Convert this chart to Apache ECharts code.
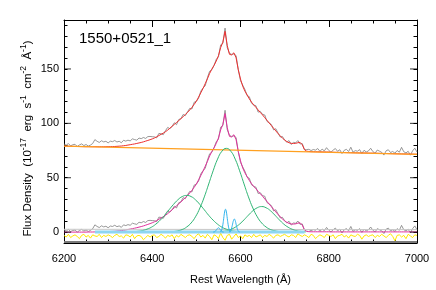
<!DOCTYPE html>
<html><head><meta charset="utf-8">
<script src="https://cdn.jsdelivr.net/npm/echarts@6/dist/echarts.min.js"></script>
<style>html,body{margin:0;padding:0;background:#fff}#c{width:436px;height:290px}</style>
</head><body><div id="c"></div>
<script>
// ---- data ----
const waveStart = 6200, waveStep = 5;           // spectral grid, Angstrom
const modelLower = [0,
 0,0,0,0,0,0,0,0,0,0,0.1,0.1,0.1,0.2,0.2,0.2,0.3,0.3,0.4,
 0.5,
 0.6,0.7,0.8,1.0,1.2,1.4,1.7,2.0,2.4,2.8,3.2,3.6,4.1,4.6,5.1,5.7,6.4,7.1,7.8,8.6,
 9.5,10.6,11.8,13.0,14.2,15.5,17.0,18.8,20.6,22.4,24.2,26.0,27.8,29.7,31.7,33.8,36.0,38.5,41.2,44.2,
 48.0,52.0,56.0,60.5,65.0,70.0,74.0,77.5,81.5,86.5,94.0,99.0,
 109,
 96,88,87.5,89.5,85,74,65.5,
 59,54.5,51,47.5,44.5,42,39.8,37.5,35.2,33,30.5,28.2,25.8,23.4,21,18.6,16.3,14.1,12.1,10.4,
 9.0,8.0,7.5,7.4,7.6,8.2,8.6,6.5,2.0,0.6,0.4,0.3,
 0.3,0.3,0.3,0.3,0.3,0.3,0.3,0.3,0.2,0.2,0.2,0.2,0.2,0.2,0.2,0.2,0.2,0.2,0.2,0.2,0.2,0.2,0.2,0.2,
 0.2,0.2,0.2,0.2,0.2,0.2,0.2,0.2,0.2,0.2,0.2,0.2,0.2,0.2,0.2,0.2,0.2,0.2,0.2,0.2,0.2,0.2,0.2,0.2];
const dataDev = [2,1,2.5,0.5,1.5,2,0,1.5,2.5,1,2,0.5,
 1.5,3,
 6.5,5,4,5.5,4.5,5,3.5,5,4.5,5.5,4,4.5,3,5,4,4.5,3.5,5,4,3,4.5,3.5,4,2.5,3.5,3,2,
 1,-1,2,0.5,-1.5,1,2.5,-0.5,0,1.5,-2,1,0,2,-1,0.5,1.5,-1.5,2,0,-1,1.5,0.5,-2,1,2,-0.5,0,1.5,-1,2.5,-1,
 3,
 -2,1,0.5,-1,2,0,-1.5,1,1.5,-0.5,2,-1,0,1.5,-2,1,0.5,2.5,-1,0,1,-1.5,2,0.5,-1,1.5,0,-0.5,2,-1,1,0.5,2,-1.5,1,0,1.5,2,1,
 2,1.5,3,0.5,2.5,1,4,1.5,0,2,3.5,1,2.5,-1,2,3,1,5,0.5,2,1.5,3,-0.5,2.5,1,2,4.5,1.5,0,3,2,1,-1.5,2.5,3.5,1,2,0.5,3,1.5,6,2,1,2.5,-1,3,5.5,2];
const residual = [
 -3,-4.5,-2,-5,-3.5,-2.5,-4,-6,-3,-2,-4.5,-3,-5.5,-2.5,-3.5,-4,-2,-5,-3,-4,
 -2.5,-3.5,-5,-3,-2,-4,-3.5,-5.5,-2.5,-3,-4.5,-2,-6,-3.5,-3,-4,-7,-5,-3,-4.5,
 -3,-2.5,-5,-4,-2,-3.5,-5.5,-3,-4,-2.5,-6,-3,-4.5,-2,-3.5,-5,-3,-2.5,-4,-6,
 -3,-1.5,-4.5,-3,-5.5,-2,-4,-7,-2.5,-3.5,-6,-1,-5,-7.5,-3,-2,-6.5,-4,-1.5,-5,
 -3.5,-6,-2.5,-4,-3,-5,-2,-4.5,-3.5,-2.5,-5,-3,-4,-2,-3.5,-5.5,-3,-2.5,-4,-3,
 -2,-3.5,-4.5,-2.5,-3,-5,-1.5,-3,-4,-2.5,-3.5,-5,-2,-3,-6,-4,-2.5,-3.5,-5,-2,
 -3,-4,-2.5,-6,-3.5,-3,-2,-4.5,-3,-5.5,-2.5,-3.5,-4,-2,-3,-6.5,-3.5,-2.5,-4,-3,
 -2.5,-5,-3,-4,-2,-3.5,-5,-3,-1.5,-4,-8,-3,-2.5,-4.5,-3,-6,-2,-3.5,-5,-2.5,-3];
const contWave = [6200, 7000];
const contFlux = [79, 71.4];
const baseWave = [6200, 7000];
const baseFlux = [2.6, 2.3];
const narrowBaseWave = [6270, 6745];
const narrowBaseFlux = [0, 0];
const floorWave = [6200, 7000];
const floorFlux = [-9.1, -9.1];
const broad1Start = 6338, broad1Step = 10;
const broad1 = [0.1,0.2,0.4,0.8,1.5,2.7,4.5,7.3,11.0,15.4,20.5,25.4,29.7,32.7,33.7,32.7,29.7,25.4,20.5,15.4,11.0,7.3,4.5,2.7,1.5,0.8,0.4,0.2,0.1];
const broad2Start = 6448, broad2Step = 10;
const broad2 = [0.5,1.2,2.4,4.7,8.4,14.1,22.2,32.4,44.3,56.4,67.1,74.4,77,74.4,67.1,56.4,44.3,32.4,22.2,14.1,8.4,4.7,2.4,1.2,0.5];
const broad3Start = 6548, broad3Step = 10;
const broad3 = [0.2,0.6,1.2,2.5,4.5,7.4,11.3,15.6,19.6,22.4,23.5,22.4,19.6,15.6,11.3,7.4,4.5,2.5,1.2,0.6,0.2];
const narrowStep = 2;
const narrow1Start = 6554;
const narrow1 = [0.2,0.9,2.8,6.8,12.7,18.5,21,18.5,12.7,6.8,2.8,0.9,0.2];
const narrow2Start = 6574;
const narrow2 = [0.1,0.5,1.6,3.9,7.3,10.6,12,10.6,7.3,3.9,1.6,0.5,0.1];
const narrow3Start = 6538;
const narrow3 = [0,0.2,0.5,1.3,2.4,3.5,4,3.5,2.4,1.3,0.5,0.2,0];
const xMin = 6200, xMax = 7000, xInterval = 200;
const yMin = -10, yMax = 195, yMinorInterval = 10;
const yMajorTicks = [0, 50, 100, 150];
const labelText = '1550+0521_1';
const xName = 'Rest Wavelength (Å)';
const yNameParts = ['Flux Density  (10', '-17', '  erg  s', '-1', '  cm', '-2', '  Å', '-1', ')'];

// ---- build series data ----
const wave = modelLower.map((_, i) => waveStart + waveStep * i);
const contAt = w => contFlux[0] + (contFlux[1] - contFlux[0]) * (w - contWave[0]) / (contWave[1] - contWave[0]);
const lowerData = wave.map((w, i) => [w, modelLower[i] + dataDev[i]]);
const lowerModel = wave.map((w, i) => [w, modelLower[i]]);
const upperData = wave.map((w, i) => [w, modelLower[i] + dataDev[i] + contAt(w)]);
const upperModel = wave.map((w, i) => [w, modelLower[i] + contAt(w)]);
const resid = wave.map((w, i) => [w, residual[i]]);
const pairs = (ws, fs) => ws.map((w, i) => [w, fs[i]]);
const grid = (start, step, vals) => vals.map((v, i) => [start + step * i, v]);
const yNameRich = yNameParts.map((p, i) => (i % 2 ? '{s|' + p + '}' : '{m|' + p + '}')).join('');

const FONT = 'Liberation Sans';
const line = (data, color, width, z, extra) => Object.assign({
  type: 'line', data, showSymbol: false, symbol: 'none', silent: true,
  lineStyle: { color, width }, z, animation: false
}, extra || {});

const baseX = {
  type: 'value', min: xMin, max: xMax, interval: xInterval,
  axisLine: { show: true, onZero: false, lineStyle: { color: '#000', width: 1 } },
  axisTick: { show: true, inside: true, length: 7, lineStyle: { color: '#000' } },
  minorTick: { show: true, splitNumber: 4, length: 3.5, lineStyle: { color: '#000' } },
  splitLine: { show: false }, minorSplitLine: { show: false }
};
const baseY = {
  type: 'value', min: yMin, max: yMax, interval: yMinorInterval,
  axisLine: { show: true, onZero: false, lineStyle: { color: '#000', width: 1 } },
  axisTick: { show: true, inside: true, length: 3.5, lineStyle: { color: '#000' } },
  splitLine: { show: false }
};

const chart = echarts.init(document.getElementById('c'), null, { renderer: 'canvas' });
chart.setOption({
  animation: false,
  backgroundColor: '#fff',
  grid: { left: 64, right: 19, top: 20, bottom: 41, containLabel: false },
  title: { text: labelText, left: 79, top: 31, padding: 0,
    textStyle: { fontFamily: FONT, fontSize: 15, fontWeight: 'normal', color: '#000' } },
  xAxis: [
    Object.assign({}, baseX, {
      position: 'bottom', name: xName, nameLocation: 'middle', nameGap: 31,
      nameTextStyle: { fontFamily: FONT, fontSize: 11, color: '#000' },
      axisLabel: { show: true, margin: 10, fontFamily: FONT, fontSize: 11, color: '#000',
        formatter: v => String(v) }
    }),
    Object.assign({}, baseX, { position: 'top', axisLabel: { show: false } })
  ],
  yAxis: [
    Object.assign({}, baseY, {
      position: 'left', name: yNameRich, nameLocation: 'middle', nameGap: 30, nameRotate: 90,
      nameMoveOverlap: false,
      nameTextStyle: { fontFamily: FONT, fontSize: 11.5, color: '#000', padding: [0, 14, 0, 0],
        rich: {
          m: { fontFamily: FONT, fontSize: 11.5, color: '#000', lineHeight: 15, verticalAlign: 'bottom' },
          s: { fontFamily: FONT, fontSize: 8.5, color: '#000', lineHeight: 15, verticalAlign: 'top' }
        } },
      axisLabel: { show: true, margin: 5, fontFamily: FONT, fontSize: 11, color: '#000',
        formatter: v => yMajorTicks.indexOf(v) >= 0 ? String(v) : '' }
    }),
    Object.assign({}, baseY, { position: 'right', axisLabel: { show: false } })
  ],
  series: [
    line(pairs(floorWave, floorFlux), '#7a7a7a', 2, 1),
    line(upperData, '#7d7d7d', 0.8, 2),
    line(lowerData, '#7d7d7d', 0.8, 2),
    line(upperModel, '#ee3030', 1, 3),
    line(lowerModel, '#e0309c', 1, 3),
    line(pairs(contWave, contFlux), '#ffa020', 1.2, 4),
    line(pairs(baseWave, baseFlux), '#c8c8c8', 1, 4),
    line(grid(broad1Start, broad1Step, broad1), '#2fb574', 1, 5, { smooth: true }),
    line(grid(broad2Start, broad2Step, broad2), '#2fb574', 1, 5, { smooth: true }),
    line(grid(broad3Start, broad3Step, broad3), '#2fb574', 1, 5, { smooth: true }),
    line(pairs(narrowBaseWave, narrowBaseFlux), '#8ed6f2', 3, 5),
    line(grid(narrow1Start, narrowStep, narrow1), '#30b4ee', 1, 6, { smooth: true }),
    line(grid(narrow2Start, narrowStep, narrow2), '#30b4ee', 1, 6, { smooth: true }),
    line(grid(narrow3Start, narrowStep, narrow3), '#30b4ee', 1, 6, { smooth: true }),
    line(resid, '#ffe800', 1, 4),
    { type: 'scatter', silent: true, clip: false, z: 10, symbol: 'rect', symbolSize: [7, 1],
      symbolOffset: [3.5, 0], itemStyle: { color: '#000' }, animation: false,
      data: yMajorTicks.map(v => [xMin, v]) },
    { type: 'scatter', silent: true, clip: false, z: 10, symbol: 'rect', symbolSize: [7, 1],
      symbolOffset: [-3.5, 0], itemStyle: { color: '#000' }, animation: false,
      data: yMajorTicks.map(v => [xMax, v]) }
  ]
});
</script></body></html>
